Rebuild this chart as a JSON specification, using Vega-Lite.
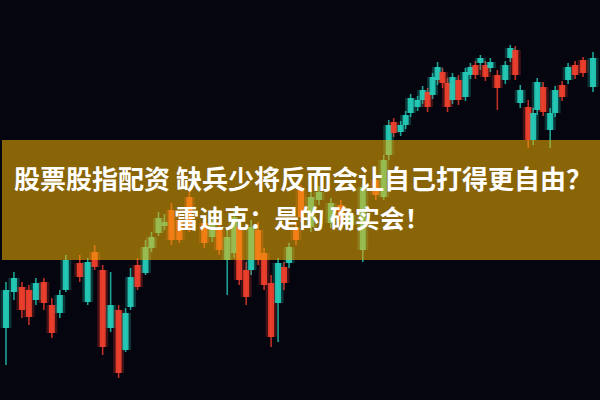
{
  "$schema": "https://vega.github.io/schema/vega-lite/v6.json",
  "width": 600,
  "height": 400,
  "autosize": {"type": "fit", "contains": "padding"},
  "padding": 0,
  "background": "#04050f",
  "config": {"view": {"stroke": null}},
  "datasets": {
    "candles": [
      {"day": 4, "open": 110, "close": 72, "high": 118, "low": 35},
      {"day": 12, "open": 122, "close": 108, "high": 128, "low": 100},
      {"day": 20, "open": 90, "close": 113, "high": 118, "low": 82},
      {"day": 27, "open": 83, "close": 110, "high": 115, "low": 75},
      {"day": 34, "open": 117, "close": 100, "high": 122, "low": 95},
      {"day": 42, "open": 97, "close": 118, "high": 122, "low": 90},
      {"day": 50, "open": 67, "close": 95, "high": 102, "low": 62},
      {"day": 58, "open": 105, "close": 87, "high": 110, "low": 82},
      {"day": 64, "open": 140, "close": 110, "high": 145, "low": 108},
      {"day": 78, "open": 123, "close": 137, "high": 145, "low": 118},
      {"day": 86, "open": 138, "close": 98, "high": 142, "low": 95},
      {"day": 93, "open": 133, "close": 148, "high": 155, "low": 130},
      {"day": 101, "open": 53, "close": 130, "high": 135, "low": 45},
      {"day": 109, "open": 95, "close": 72, "high": 128, "low": 68},
      {"day": 117, "open": 27, "close": 90, "high": 95, "low": 22},
      {"day": 124, "open": 87, "close": 50, "high": 92, "low": 48},
      {"day": 129, "open": 123, "close": 93, "high": 132, "low": 90},
      {"day": 136, "open": 113, "close": 135, "high": 142, "low": 110},
      {"day": 144, "open": 153, "close": 127, "high": 160, "low": 125},
      {"day": 150, "open": 163, "close": 152, "high": 168, "low": 148},
      {"day": 157, "open": 182, "close": 167, "high": 188, "low": 164},
      {"day": 163, "open": 178, "close": 174, "high": 186, "low": 170},
      {"day": 170, "open": 160, "close": 190, "high": 197, "low": 155},
      {"day": 178, "open": 160, "close": 180, "high": 187, "low": 157},
      {"day": 188, "open": 173, "close": 203, "high": 210, "low": 168},
      {"day": 203, "open": 157, "close": 177, "high": 182, "low": 152},
      {"day": 211, "open": 177, "close": 163, "high": 182, "low": 158},
      {"day": 218, "open": 150, "close": 170, "high": 175, "low": 145},
      {"day": 226, "open": 163, "close": 140, "high": 170, "low": 105},
      {"day": 233, "open": 183, "close": 147, "high": 190, "low": 142},
      {"day": 238, "open": 120, "close": 173, "high": 180, "low": 115},
      {"day": 245, "open": 103, "close": 130, "high": 138, "low": 95},
      {"day": 250, "open": 173, "close": 130, "high": 180, "low": 125},
      {"day": 257, "open": 140, "close": 170, "high": 178, "low": 135},
      {"day": 263, "open": 115, "close": 147, "high": 152, "low": 110},
      {"day": 270, "open": 63, "close": 117, "high": 125, "low": 53},
      {"day": 277, "open": 137, "close": 97, "high": 142, "low": 58},
      {"day": 283, "open": 117, "close": 133, "high": 138, "low": 110},
      {"day": 288, "open": 153, "close": 137, "high": 157, "low": 132},
      {"day": 295, "open": 160, "close": 172, "high": 178, "low": 155},
      {"day": 300, "open": 183, "close": 210, "high": 215, "low": 178},
      {"day": 310, "open": 203, "close": 173, "high": 210, "low": 168},
      {"day": 318, "open": 208, "close": 200, "high": 214, "low": 195},
      {"day": 330, "open": 197, "close": 177, "high": 202, "low": 172},
      {"day": 340, "open": 180, "close": 195, "high": 200, "low": 175},
      {"day": 350, "open": 185, "close": 175, "high": 190, "low": 170},
      {"day": 362, "open": 213, "close": 150, "high": 220, "low": 138},
      {"day": 375, "open": 205, "close": 220, "high": 225, "low": 200},
      {"day": 383, "open": 240, "close": 203, "high": 245, "low": 200},
      {"day": 388, "open": 275, "close": 245, "high": 280, "low": 240},
      {"day": 393, "open": 267, "close": 278, "high": 282, "low": 263},
      {"day": 400, "open": 275, "close": 268, "high": 279, "low": 264},
      {"day": 405, "open": 285, "close": 275, "high": 289, "low": 271},
      {"day": 410, "open": 302, "close": 287, "high": 306, "low": 283},
      {"day": 417, "open": 300, "close": 293, "high": 304, "low": 289},
      {"day": 422, "open": 310, "close": 300, "high": 314, "low": 296},
      {"day": 427, "open": 293, "close": 308, "high": 312, "low": 288},
      {"day": 432, "open": 323, "close": 305, "high": 327, "low": 301},
      {"day": 437, "open": 333, "close": 320, "high": 338, "low": 315},
      {"day": 442, "open": 317, "close": 328, "high": 332, "low": 312},
      {"day": 447, "open": 293, "close": 317, "high": 322, "low": 288},
      {"day": 452, "open": 323, "close": 300, "high": 327, "low": 296},
      {"day": 458, "open": 300, "close": 320, "high": 325, "low": 295},
      {"day": 465, "open": 328, "close": 303, "high": 332, "low": 299},
      {"day": 470, "open": 333, "close": 325, "high": 337, "low": 321},
      {"day": 475, "open": 325, "close": 335, "high": 339, "low": 321},
      {"day": 480, "open": 342, "close": 337, "high": 345, "low": 330},
      {"day": 485, "open": 323, "close": 335, "high": 339, "low": 319},
      {"day": 490, "open": 338, "close": 332, "high": 342, "low": 328},
      {"day": 497, "open": 312, "close": 325, "high": 330, "low": 290},
      {"day": 505, "open": 335, "close": 320, "high": 339, "low": 316},
      {"day": 510, "open": 352, "close": 342, "high": 355, "low": 338},
      {"day": 515, "open": 325, "close": 350, "high": 354, "low": 320},
      {"day": 520, "open": 310, "close": 297, "high": 315, "low": 292},
      {"day": 528, "open": 260, "close": 293, "high": 300, "low": 252},
      {"day": 533, "open": 287, "close": 260, "high": 292, "low": 255},
      {"day": 537, "open": 318, "close": 290, "high": 322, "low": 285},
      {"day": 543, "open": 288, "close": 313, "high": 318, "low": 284},
      {"day": 550, "open": 287, "close": 270, "high": 292, "low": 252},
      {"day": 555, "open": 310, "close": 287, "high": 314, "low": 283},
      {"day": 562, "open": 303, "close": 315, "high": 319, "low": 299},
      {"day": 568, "open": 333, "close": 320, "high": 337, "low": 316},
      {"day": 575, "open": 325, "close": 335, "high": 339, "low": 321},
      {"day": 583, "open": 327, "close": 340, "high": 343, "low": 323},
      {"day": 593, "open": 342, "close": 313, "high": 348, "low": 308}
    ],
    "title": [
      {"line": "股票股指配资 缺兵少将反而会让自己打得更自由？", "row": 1},
      {"line": "雷迪克：是的 确实会！", "row": 2}
    ]
  },
  "layer": [
    {
      "data": {"name": "candles"},
      "mark": {"type": "rule", "strokeWidth": 1.6, "opacity": 0.8},
      "encoding": {
        "x": {"field": "day", "type": "quantitative", "scale": {"domain": [0, 600], "nice": false, "zero": false, "padding": 0}, "axis": null},
        "y": {"field": "low", "type": "quantitative", "scale": {"domain": [0, 400], "nice": false, "zero": false, "padding": 0}, "axis": null},
        "y2": {"field": "high"},
        "color": {"condition": {"test": "datum.close > datum.open", "value": "#ee3a2c"}, "value": "#22c9b5"}
      }
    },
    {
      "data": {"name": "candles"},
      "mark": {"type": "bar", "size": 11, "opacity": 0.25},
      "encoding": {
        "x": {"field": "day", "type": "quantitative"},
        "y": {"field": "open", "type": "quantitative"},
        "y2": {"field": "close"},
        "color": {"condition": {"test": "datum.close > datum.open", "value": "#ee3a2c"}, "value": "#22c9b5"}
      }
    },
    {
      "data": {"name": "candles"},
      "mark": {"type": "bar", "size": 6, "opacity": 0.92},
      "encoding": {
        "x": {"field": "day", "type": "quantitative"},
        "y": {"field": "open", "type": "quantitative"},
        "y2": {"field": "close"},
        "color": {"condition": {"test": "datum.close > datum.open", "value": "#f0402e"}, "value": "#25ccb8"}
      }
    },
    {
      "data": {"values": [{"band": "banner"}]},
      "mark": {"type": "rect", "color": "#f8b402", "opacity": 0.55},
      "encoding": {
        "x": {"datum": 0},
        "x2": {"datum": 600},
        "y": {"datum": 260},
        "y2": {"datum": 140}
      }
    },
    {
      "data": {"name": "title"},
      "transform": [{"filter": "datum.row == 1"}],
      "mark": {"type": "text", "font": "Noto Sans CJK SC", "fontWeight": "bold", "fontSize": 26, "color": "#ffffff", "align": "center", "baseline": "middle"},
      "encoding": {
        "x": {"datum": 302},
        "y": {"datum": 219},
        "text": {"field": "line"}
      }
    },
    {
      "data": {"name": "title"},
      "transform": [{"filter": "datum.row == 2"}],
      "mark": {"type": "text", "font": "Noto Sans CJK SC", "fontWeight": "bold", "fontSize": 25, "color": "#ffffff", "align": "center", "baseline": "middle"},
      "encoding": {
        "x": {"datum": 301},
        "y": {"datum": 180},
        "text": {"field": "line"}
      }
    }
  ]
}
